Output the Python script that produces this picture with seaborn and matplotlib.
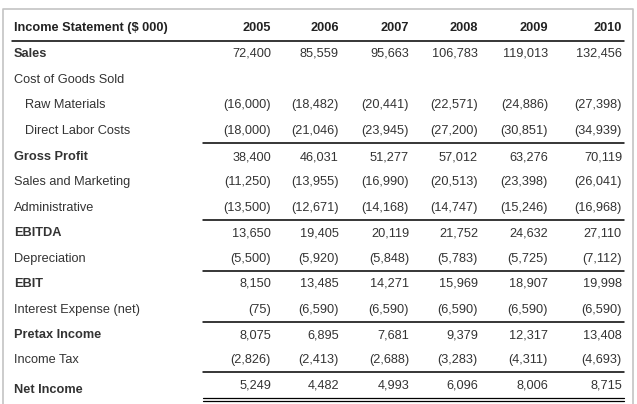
import matplotlib
matplotlib.use("Agg")
import matplotlib.pyplot as plt
import seaborn as sns

## table data
years = ["2005", "2006", "2007", "2008", "2009", "2010"]
row_labels = ["Sales", "Cost of Goods Sold", "Raw Materials", "Direct Labor Costs",
              "Gross Profit", "Sales and Marketing", "Administrative", "EBITDA",
              "Depreciation", "EBIT", "Interest Expense (net)", "Pretax Income",
              "Income Tax", "Net Income"]
sales = [72400, 85559, 95663, 106783, 119013, 132456]
cogs = [None] * 6
raw_materials = [-16000, -18482, -20441, -22571, -24886, -27398]
direct_labor = [-18000, -21046, -23945, -27200, -30851, -34939]
gross_profit = [38400, 46031, 51277, 57012, 63276, 70119]
sales_marketing = [-11250, -13955, -16990, -20513, -23398, -26041]
administrative = [-13500, -12671, -14168, -14747, -15246, -16968]
ebitda = [13650, 19405, 20119, 21752, 24632, 27110]
depreciation = [-5500, -5920, -5848, -5783, -5725, -7112]
ebit = [8150, 13485, 14271, 15969, 18907, 19998]
interest = [-75, -6590, -6590, -6590, -6590, -6590]
pretax = [8075, 6895, 7681, 9379, 12317, 13408]
income_tax = [-2826, -2413, -2688, -3283, -4311, -4693]
net_income = [5249, 4482, 4993, 6096, 8006, 8715]

rows = [sales, cogs, raw_materials, direct_labor, gross_profit, sales_marketing,
        administrative, ebitda, depreciation, ebit, interest, pretax, income_tax, net_income]
bold_rows = ["Sales", "Gross Profit", "EBITDA", "EBIT", "Pretax Income", "Net Income"]
indent_rows = ["Raw Materials", "Direct Labor Costs"]
rule_after = ["Direct Labor Costs", "Administrative", "Depreciation",
              "Interest Expense (net)", "Income Tax"]


def fmt(v):
    if v is None:
        return ""
    if v < 0:
        return "({:,})".format(-v)
    return "{:,}".format(v)


sns.set_theme(style="white")
plt.rcParams['font.family'] = ['Liberation Sans', 'DejaVu Sans']

fig = plt.figure(figsize=(6.37, 4.04), dpi=100)
ax = fig.add_axes([0, 0, 1, 1])
ax.set_xlim(0, 637)
ax.set_ylim(404, 0)
ax.axis("off")

# outer frame
ax.plot([3, 3, 633, 633], [410, 9, 9, 410], color="#c4c4c4", lw=1.2)

# header
fs = 9.2
col_right = [271, 339, 409, 478, 548, 622]
ax.text(14, 28, "Income Statement ($ 000)", fontsize=fs, fontweight="bold",
        color="#222222", va="center", ha="left")
for x, y in zip(col_right, years):
    ax.text(x, 28, y, fontsize=fs, fontweight="bold", color="#222222",
            va="center", ha="right")
ax.plot([12, 624], [40.5, 40.5], color="black", lw=1.1)

row_y = [54, 80, 105, 131, 157, 182, 208, 233, 259, 284, 310, 335, 360, 386]
for label, vals, y in zip(row_labels, rows, row_y):
    bold = label in bold_rows
    xl = 25 if label in indent_rows else 14
    ly = 390 if label == "Net Income" else y
    ax.text(xl, ly, label, fontsize=fs, fontweight="bold" if bold else "normal",
            color="#333333", va="center", ha="left")
    for x, v in zip(col_right, vals):
        ax.text(x, y, fmt(v), fontsize=fs, color="#333333", va="center", ha="right")
    if label in rule_after:
        ax.plot([203, 624], [y + 12, y + 12], color="black", lw=1.1)

# double rule under net income
ax.plot([203, 624], [397.5, 397.5], color="black", lw=0.9)
ax.plot([203, 624], [400.5, 400.5], color="black", lw=0.9)

fig.savefig("out.png", dpi=100)
